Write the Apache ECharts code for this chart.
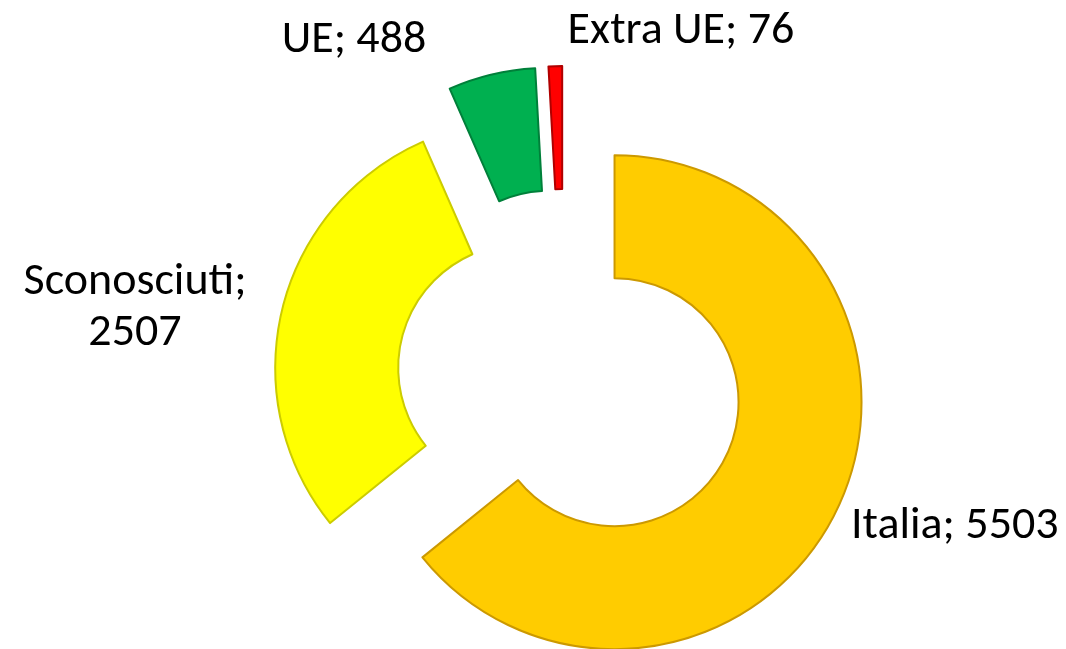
<!DOCTYPE html>
<html>
<head>
<meta charset="utf-8">
<style>
  html, body { margin: 0; padding: 0; background: #fff; }
  #chart { width: 1066px; height: 649px; }
</style>
<script src="https://cdn.jsdelivr.net/npm/echarts@6/dist/echarts.min.js"></script>
</head>
<body>
<div id="chart"></div>
<script>
const categories = ['Italia', 'Sconosciuti', 'UE', 'Extra UE'];
const values = [5503, 2507, 488, 76];

const colors = ['#FFCC00', '#FFFF00', '#00B050', '#FF0000'];
const borders = ['#CC9900', '#CCCC00', '#00803A', '#B00000'];
// each slice is pulled out by its own amount, so each gets a series
const offsets = [56, 43, 65, 65];
// where the data labels sit (text anchor points)
const labelPos = [
  { x: 851, y: 526, align: 'left' },
  { x: 135, y: 308, align: 'center' },
  { x: 354, y: 40, align: 'center' },
  { x: 681, y: 31, align: 'center' }
];

const fontFamily = 'Carlito, Lato, "Open Sans", sans-serif';

function sliceSeries(i) {
  return {
    type: 'pie',
    silent: true,
    center: [564, 378],
    radius: [124, 247],
    startAngle: 90,
    clockwise: true,
    selectedMode: 'multiple',
    selectedOffset: offsets[i],
    animation: false,
    label: { show: false },
    labelLine: { show: false },
    data: categories.map(function (name, j) {
      const own = j === i;
      return {
        name: name,
        value: values[j],
        selected: own,
        itemStyle: own
          ? { color: colors[j], borderColor: borders[j], borderWidth: 2 }
          : { color: 'rgba(0,0,0,0)', borderWidth: 0 }
      };
    })
  };
}

function labelText(j) {
  const sep = j === 1 ? ';\n' : '; ';
  return categories[j] + sep + values[j];
}

const labels = categories.map(function (c, j) {
  const p = labelPos[j];
  return {
    type: 'text',
    x: p.x,
    y: p.y,
    silent: true,
    style: {
      text: labelText(j),
      fill: '#000',
      font: '46px ' + fontFamily,
      lineHeight: 51,
      align: p.align,
      verticalAlign: 'middle',
      textAlign: p.align,
      textVerticalAlign: 'middle'
    }
  };
});

const chart = echarts.init(document.getElementById('chart'));
chart.setOption({
  backgroundColor: '#fff',
  series: categories.map(function (c, i) { return sliceSeries(i); }),
  graphic: labels
});
</script>
</body>
</html>
